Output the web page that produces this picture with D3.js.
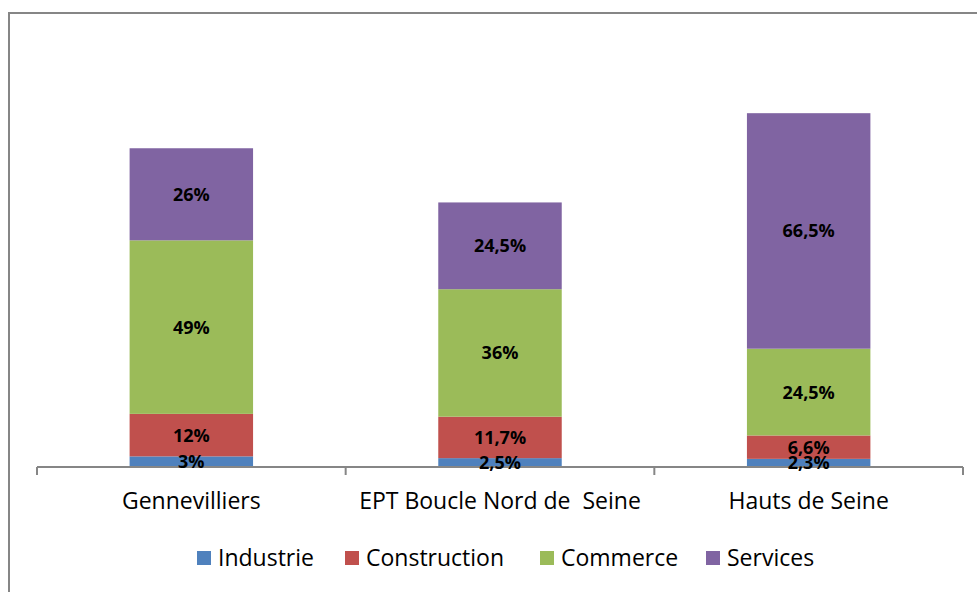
<!DOCTYPE html>
<html>
<head>
<meta charset="utf-8">
<script src="https://cdn.jsdelivr.net/npm/d3@7"></script>
<style>
  body { margin: 0; background: #fff; }
  svg { display: block; font-family: "Open Sans", "Noto Sans", sans-serif; }
</style>
</head>
<body>
<svg id="chart" width="977" height="592"></svg>
<script>
// Data (percent)
const categories = ["Gennevilliers", "EPT Boucle Nord de  Seine", "Hauts de Seine"];
const seriesNames = ["Industrie", "Construction", "Commerce", "Services"];
const industrie = [3, 2.5, 2.3];
const construction = [12, 11.7, 6.6];
const commerce = [49, 36, 24.5];
const services = [26, 24.5, 66.5];
const labels = [
  ["3%", "2,5%", "2,3%"],
  ["12%", "11,7%", "6,6%"],
  ["49%", "36%", "24,5%"],
  ["26%", "24,5%", "66,5%"]
];
const colors = ["#4F81BD", "#C0504D", "#9BBB59", "#8064A2"];

const svg = d3.select("#chart");

// Outer chart border (runs off the canvas to right and bottom)
svg.append("rect")
    .attr("x", 9).attr("y", 13)
    .attr("width", 1000).attr("height", 600)
    .attr("fill", "none")
    .attr("stroke", "#868686")
    .attr("stroke-width", 2);

const plot = { left: 37, right: 963, top: 42, bottom: 467 };

const x = d3.scaleBand()
    .domain(categories)
    .range([plot.left, plot.right])
    .paddingInner(0.6)
    .paddingOuter(0.3);

const y = d3.scaleLinear()
    .domain([0, 120])
    .range([plot.bottom, plot.top]);

// Build stacked table
const table = categories.map((c, i) => ({
  cat: c,
  Industrie: industrie[i],
  Construction: construction[i],
  Commerce: commerce[i],
  Services: services[i]
}));
const stacked = d3.stack().keys(seriesNames)(table);

const layers = svg.append("g").selectAll("g")
    .data(stacked)
    .join("g")
    .attr("fill", (d, i) => colors[i]);

layers.selectAll("rect")
    .data(d => d)
    .join("rect")
    .attr("x", d => x(d.data.cat))
    .attr("y", d => y(d[1]))
    .attr("width", x.bandwidth())
    .attr("height", d => y(d[0]) - y(d[1]));

// Category axis
const axis = svg.append("g")
    .attr("transform", `translate(0,${plot.bottom})`);
const tickPos = [plot.left].concat(categories.map(c => x(c) + x.bandwidth() / 2 + x.step() / 2));
axis.append("line")
    .attr("x1", plot.left).attr("x2", plot.right)
    .attr("y1", 0).attr("y2", 0)
    .attr("stroke", "#868686").attr("stroke-width", 2);
axis.selectAll(".tick")
    .data(tickPos)
    .join("line")
    .attr("class", "tick")
    .attr("x1", d => d).attr("x2", d => d)
    .attr("y1", 0).attr("y2", 8)
    .attr("stroke", "#868686").attr("stroke-width", 2);
axis.selectAll(".cat")
    .data(categories)
    .join("text")
    .attr("class", "cat")
    .attr("x", d => x(d) + x.bandwidth() / 2)
    .attr("y", 42)
    .attr("text-anchor", "middle")
    .attr("font-size", 23)
    .attr("fill", "#000")
    .style("white-space", "pre")
    .text(d => d);

// Data labels (drawn after axis so they sit on top)
const lbl = svg.append("g");
stacked.forEach((layer, si) => {
  lbl.selectAll(".l" + si)
    .data(layer)
    .join("text")
    .attr("x", d => x(d.data.cat) + x.bandwidth() / 2)
    .attr("y", d => (y(d[0]) + y(d[1])) / 2)
    .attr("dy", "0.36em")
    .attr("text-anchor", "middle")
    .attr("font-size", 18)
    .attr("font-weight", "bold")
    .attr("fill", "#000")
    .text((d, i) => labels[si][i]);
});

// Legend
const legendX = [197, 345, 540, 706];
const legend = svg.append("g");
const items = legend.selectAll("g")
    .data(seriesNames)
    .join("g")
    .attr("transform", (d, i) => `translate(${legendX[i]},551)`);
items.append("rect")
    .attr("width", 14).attr("height", 14)
    .attr("fill", (d, i) => colors[i]);
items.append("text")
    .attr("x", 21).attr("y", 15)
    .attr("font-size", 23)
    .attr("fill", "#000")
    .text(d => d);
</script>
</body>
</html>
